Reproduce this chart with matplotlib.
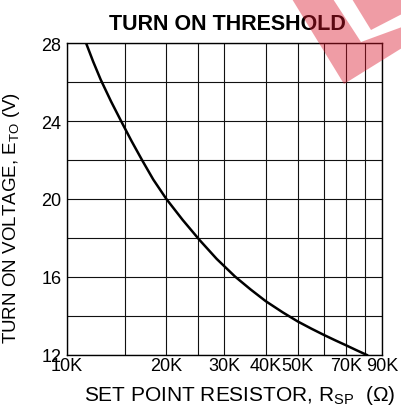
import matplotlib
matplotlib.use("Agg")
import matplotlib.pyplot as plt
from matplotlib.ticker import NullFormatter
from matplotlib.patches import Polygon

plt.rcParams['font.family'] = ['Liberation Sans', 'DejaVu Sans']
plt.rcParams['mathtext.fontset'] = 'custom'
plt.rcParams['mathtext.rm'] = 'Liberation Sans'
plt.rcParams['mathtext.default'] = 'rm'

# ── data ────────────────────────────────────────────────────────
r_sp_k = [11.42, 12.0, 12.65, 13.6, 14.6, 15.7, 16.9, 18.25, 20.0, 22.4, 25.2, 28.4,
          32.3, 36.0, 40.0, 45.0, 50.0, 55.0, 60.0, 65.0, 70.0, 75.0, 81.0]
e_to = [28.0, 27.05, 26.12, 25.0, 23.98, 22.96, 21.98, 21.0, 20.0, 18.93, 17.9, 16.93,
        16.02, 15.36, 14.76, 14.19, 13.72, 13.35, 13.03, 12.75, 12.5, 12.26, 12.0]

x_ticks = [10, 20, 30, 40, 50, 70, 90]
x_labels = ["10K", "20K", "30K", "40K", "50K", "70K", "90K"]
x_minor = [15, 25, 60, 80]
y_ticks = [12, 16, 20, 24, 28]
y_minor = [14, 18, 22, 26]

W, H = 402, 406
fig = plt.figure(figsize=(W/100, H/100), dpi=100)
ax = fig.add_axes([67/W, 1-356/H, 315/W, 312/H])

ax.plot(r_sp_k, e_to, color="black", lw=1.8, zorder=3)

ax.set_xscale("log")
ax.set_xlim(10, 90); ax.set_ylim(12, 28)
ax.set_xticks(x_ticks, x_labels)
ax.set_xticks(x_minor, minor=True)
ax.xaxis.set_minor_formatter(NullFormatter())
ax.set_yticks(y_ticks)
ax.set_yticks(y_minor, minor=True)
ax.tick_params(which="both", length=0, labelsize=13)
ax.tick_params(axis="x", pad=1.5)
ax.tick_params(axis="y", pad=4)
ax.grid(True, which="both", color="#111111", lw=0.8)
for s in ax.spines.values():
    s.set_linewidth(1.0); s.set_color("black")

fig.text(227.5/W, 1-29.5/H, "TURN ON THRESHOLD", ha="center", va="baseline",
         fontsize=15.5, fontweight="bold")
fig.text(240/W, 1-401/H, r"SET POINT RESISTOR, R$_{\mathrm{SP}}$  ($\Omega$)",
         ha="center", va="baseline", fontsize=15)
fig.text(12/W, 1-218/H, r"TURN ON VOLTAGE, E$_{\mathrm{TO}}$ (V)",
         ha="center", va="center", rotation=90, fontsize=13.5)

# faint red watermark in the top-right corner
wm = [[(292, 0), (333, 0), (361, 43), (402, 28), (402, 49), (344, 85)],
      [(352, 0), (402, 0), (402, 15), (371, 31)]]
for pts in wm:
    fig.patches.append(Polygon([(x/W, 1-y/H) for x, y in pts], closed=True,
                               transform=fig.transFigure, facecolor=(0.86, 0.08, 0.16),
                               alpha=0.42, lw=0, zorder=10))

fig.savefig("out.png", dpi=100)
